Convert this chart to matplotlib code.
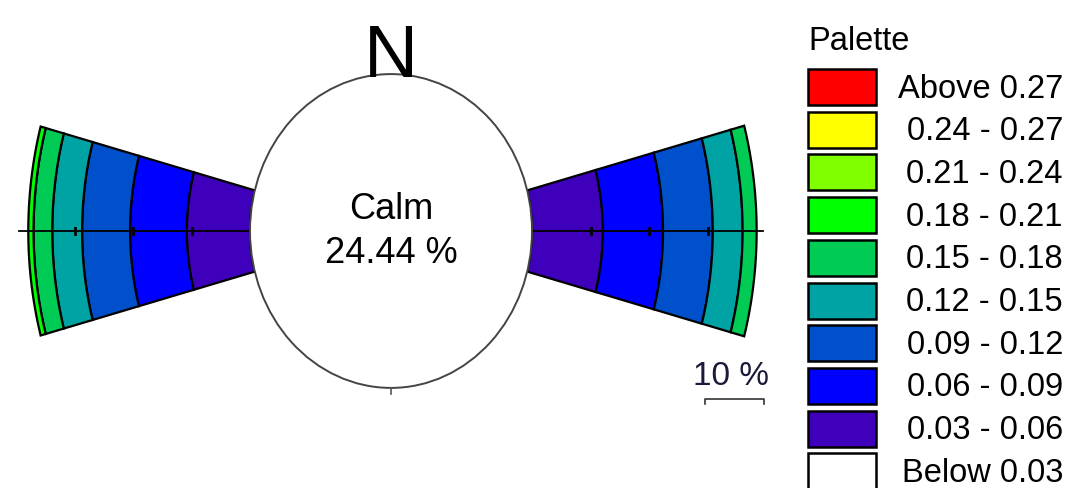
import numpy as np
import matplotlib.pyplot as plt
from matplotlib.patches import Polygon, Circle, Rectangle

# wind rose data (% of time per speed class)
directions = ['W', 'E']
dir_angles = [180, 0]
speed_classes = ['0.03 - 0.06', '0.06 - 0.09', '0.09 - 0.12', '0.12 - 0.15', '0.15 - 0.18', '0.18 - 0.21']
freq_w = [10.8, 9.7, 8.2, 5.1, 3.2, 0.9]
freq_e = [12.1, 10.3, 8.5, 5.1, 2.4, 0.0]
calm_pct = 24.44

# palette legend
palette_labels = ['Above 0.27', '0.24 - 0.27', '0.21 - 0.24', '0.18 - 0.21', '0.15 - 0.18',
                  '0.12 - 0.15', '0.09 - 0.12', '0.06 - 0.09', '0.03 - 0.06', 'Below 0.03']
palette_colors = ['#FF0000', '#FFFF00', '#80FF00', '#00FF00', '#00CC55',
                  '#00A3A3', '#0050CC', '#0000FF', '#3F00BB', '#FFFFFF']
band_colors = ['#3F00BB', '#0000FF', '#0050CC', '#00A3A3', '#00CC55', '#00FF00']

plt.rcParams['font.family'] = ['Liberation Sans', 'DejaVu Sans']

W, H = 1068, 489
fig = plt.figure(figsize=(W / 100, H / 100), dpi=100)

# rose axes, units in percent
kx, ky = 5.85, 6.51          # px per percent
cx, cy = 391, 232            # rose centre in px (from top)
ax = fig.add_axes([0, 0, 1, 1])
ax.set_xlim(-cx / kx, (W - cx) / kx)
ax.set_ylim(-(H - cy) / ky, cy / ky)
ax.axis('off')

R0 = 141 / kx               # calm circle radius
half = np.radians(15.0)


def arc(r, theta, n=40):
    t = np.linspace(theta - half, theta + half, n)
    return np.column_stack([r * np.cos(t), r * np.sin(t)])


for ang, freqs in zip(dir_angles, [freq_w, freq_e]):
    th = np.radians(ang)
    edges = R0 + np.concatenate([[0], np.cumsum(freqs)])
    for i, f in enumerate(freqs):
        if f <= 0:
            continue
        inner = arc(edges[i], th)
        outer = arc(edges[i + 1], th)[::-1]
        ax.add_patch(Polygon(np.vstack([inner, outer]), closed=True,
                             facecolor=band_colors[i], edgecolor='black', lw=1.6, zorder=2))

# horizontal axis with 10 % ticks
L = R0 + 39.5
ax.plot([-L, L], [0, 0], color='black', lw=1.3, zorder=3)
for k in [10, 20, 30]:
    for s in [-1, 1]:
        ax.plot([s * (R0 + k)] * 2, [-0.5, 0.5], color='black', lw=2, zorder=3)

# calm circle
ax.add_patch(Circle((0, 0), R0, facecolor='white', edgecolor='#444444', lw=1.4, zorder=4))
ax.plot([0, 0], [-R0, -R0 - 1.0], color='#555555', lw=1.2, zorder=4)
ax.text(0, 3.4, 'Calm', ha='center', va='center', fontsize=26, zorder=5)
ax.text(0, -3.3, f'{calm_pct:.2f} %', ha='center', va='center', fontsize=26, zorder=5)
ax.text(0, (cy - 77) / ky, 'N', ha='center', va='baseline', fontsize=54, zorder=5)

# scale bar (10 %)
sx = (705 - cx) / kx
sy = (cy - 400) / ky
ax.plot([sx, sx, sx + 10, sx + 10], [sy - 0.8, sy, sy, sy - 0.8], color='#333333', lw=1.2)
ax.text(sx + 4.5, sy + 1.3, '10 %', ha='center', va='bottom', fontsize=24, color='#1a1a3a')

# palette legend in pixel coordinates
lg = fig.add_axes([0, 0, 1, 1])
lg.set_xlim(0, W)
lg.set_ylim(H, 0)
lg.axis('off')
lg.patch.set_alpha(0)
lg.text(808, 42, 'Palette', ha='left', va='center', fontsize=23.5)
for i, (lab, col) in enumerate(zip(palette_labels, palette_colors)):
    y0 = 70 + 42.7 * i
    lg.add_patch(Rectangle((808, y0), 68, 36, facecolor=col, edgecolor='black', lw=1.8))
    lg.text(1063, y0 + 19, lab, ha='right', va='center', fontsize=23.5)

fig.savefig('out.png', dpi=100)
